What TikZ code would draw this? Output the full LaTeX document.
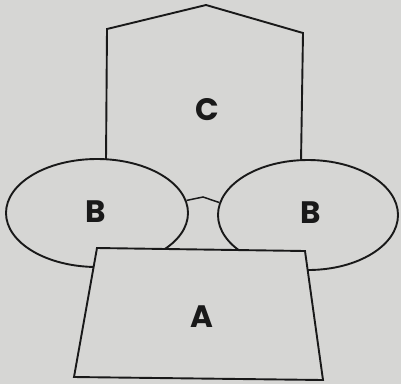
\documentclass[tikz,border=0pt]{standalone}
\usepackage{fontspec}
\setmainfont{Poppins}
\usetikzlibrary{shapes.geometric}
\definecolor{paper}{RGB}{214,214,212}
\definecolor{ink}{RGB}{25,25,25}
\tikzset{
  outline/.style={draw=ink, line width=1.9pt, line join=miter},
  lbl/.style={font=\fontsize{31}{31}\selectfont\bfseries, text=ink, inner sep=0pt},
  lobe/.style={outline, fill=paper, ellipse, inner sep=0pt},
}
\begin{document}
\begin{tikzpicture}[x=1pt,y=-1pt]
\fill[paper] (0,0) rectangle (401,384);
\useasboundingbox (0,0) rectangle (401,384);
% C house shape (open at bottom)
\coordinate (c1) at (106,161);
\coordinate (c2) at (107,29);
\coordinate (c3) at (206,5);
\coordinate (c4) at (303,33);
\coordinate (c5) at (301,162);
\draw[outline] (c1) -- (c2) -- (c3) -- (c4) -- (c5);
\node[lbl] (C) at (207,110) {C};
% B lobes
\node[lobe, minimum width=182pt, minimum height=108pt] (BL) at (97,213) {};
\node[lobe, minimum width=180pt, minimum height=110pt] (BR) at (308,215) {};
\node[lbl] (BLt) at (96,212) {B};
\node[lbl] (BRt) at (311,213) {B};
\coordinate (bridge) at (203,197);
\draw[outline, line width=1.5pt] (BL.8) -- (bridge) -- (BR.172);
% A trapezoid
\coordinate (a1) at (97,248);
\coordinate (a2) at (305,251);
\coordinate (a3) at (323,380);
\coordinate (a4) at (74,377);
\draw[outline, fill=paper] (a1) -- (a2) -- (a3) -- (a4) -- cycle;
\node[lbl] (A) at (202,317) {A};
\end{tikzpicture}
\end{document}
